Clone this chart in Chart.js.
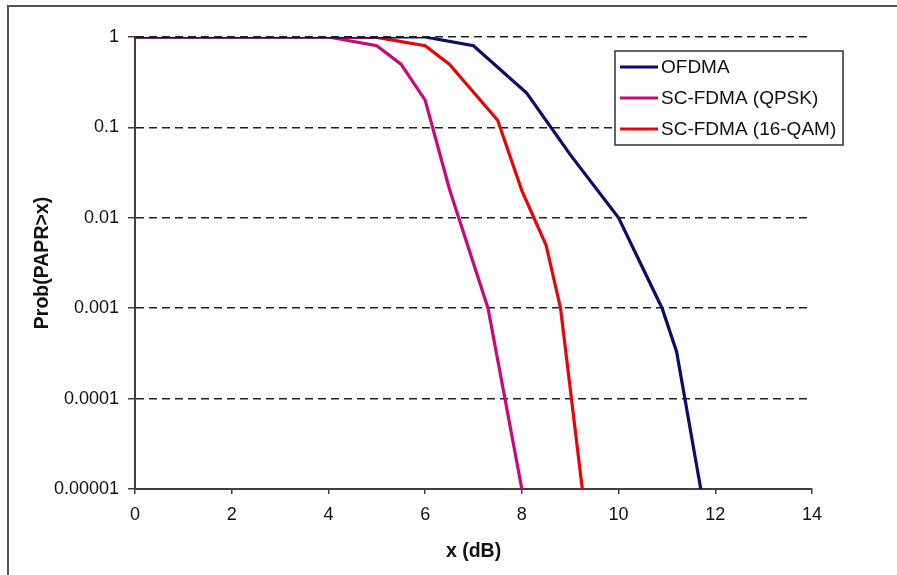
<!DOCTYPE html>
<html>
<head>
<meta charset="utf-8">
<script src="https://cdn.jsdelivr.net/npm/chart.js@4.4.0/dist/chart.umd.min.js"></script>
<style>
  html, body { margin: 0; padding: 0; background: #fff; }
</style>
</head>
<body>
<canvas id="myChart" width="897" height="575"></canvas>
<script>
let ofdmaX = [0, 2, 4, 6, 7, 8.1, 9, 10, 10.9, 11.2, 11.7];
let ofdmaY = [1, 1, 1, 1, 0.8, 0.24, 0.05, 0.01, 0.001, 0.00033, 0.00001];

let qpskX = [0, 2, 4, 5, 5.5, 6, 6.5, 7.3, 8];
let qpskY = [1, 1, 1, 0.8, 0.5, 0.2, 0.021, 0.001, 0.00001];

let qamX = [0, 2, 4, 5, 6, 6.5, 7.5, 8, 8.5, 8.8, 9.25];
let qamY = [1, 1, 1, 0.99, 0.8, 0.5, 0.12, 0.02, 0.005, 0.001, 0.00001];

let seriesNames = ['OFDMA', 'SC-FDMA (QPSK)', 'SC-FDMA (16-QAM)'];
let seriesColors = ['#0c0c6c', '#c8087c', '#e20808'];

// axis ticks
let xTicks = [0, 2, 4, 6, 8, 10, 12, 14];
let yTicks = [0.00001, 0.0001, 0.001, 0.01, 0.1, 1];
let yTickLabels = ['0.00001', '0.0001', '0.001', '0.01', '0.1', '1'];

const FONT = "'Liberation Sans', Arial, sans-serif";

// turns two arrays into {x,y} points
function pts(xs, ys) {
    return xs.map((v, i) => ({ x: v, y: ys[i] }));
}

// the thin frame round the picture (top and left only)
const framePlugin = {
    id: 'frame',
    beforeDraw(chart) {
        const c = chart.ctx;
        c.save();
        c.fillStyle = '#fff';
        c.fillRect(0, 0, chart.width, chart.height);
        c.strokeStyle = '#555';
        c.lineWidth = 2;
        c.beginPath();
        c.moveTo(8, chart.height);
        c.lineTo(8, 6);
        c.lineTo(chart.width, 6);
        c.stroke();
        c.restore();
    }
};

// boxed legend inside the plot, like the excel one
const boxLegend = {
    id: 'boxLegend',
    afterDraw(chart) {
        const c = chart.ctx;
        const x0 = 615, y0 = 51, w = 228, h = 94;
        c.save();
        c.fillStyle = '#fff';
        c.fillRect(x0, y0, w, h);
        c.strokeStyle = '#333';
        c.lineWidth = 1.5;
        c.strokeRect(x0, y0, w, h);
        c.font = '19px ' + FONT;
        c.textBaseline = 'middle';
        c.fillStyle = '#111';
        chart.data.datasets.forEach((ds, i) => {
            const y = 67 + i * 31;
            c.strokeStyle = ds.borderColor;
            c.lineWidth = 3;
            c.beginPath();
            c.moveTo(620, y);
            c.lineTo(658, y);
            c.stroke();
            c.fillText(ds.label, 661, y + 1);
        });
        c.restore();
    }
};

let ctx = document.getElementById('myChart').getContext('2d');
let chart = new Chart(ctx, {
    type: 'line',
    data: {
        datasets: [
            { label: seriesNames[0], data: pts(ofdmaX, ofdmaY), borderColor: seriesColors[0] },
            { label: seriesNames[1], data: pts(qpskX, qpskY), borderColor: seriesColors[1] },
            { label: seriesNames[2], data: pts(qamX, qamY), borderColor: seriesColors[2] }
        ]
    },
    options: {
        responsive: false,
        animation: false,
        layout: { padding: { left: 0, top: 37, right: 85, bottom: 0 } },
        elements: {
            line: { borderWidth: 3.2, tension: 0, fill: false },
            point: { radius: 0 }
        },
        plugins: {
            legend: { display: false },
            tooltip: { enabled: false }
        },
        scales: {
            x: {
                type: 'linear',
                min: 0,
                max: 14,
                afterBuildTicks: s => { s.ticks = xTicks.map(v => ({ value: v })); },
                afterFit: s => { s.height = 86; },
                ticks: { color: '#111', font: { family: FONT, size: 18 }, padding: 10 },
                grid: { drawOnChartArea: false, drawTicks: true, tickLength: 5, color: '#404040', lineWidth: 1.5 },
                border: { color: '#404040', width: 2 },
                title: {
                    display: true,
                    text: 'x (dB)',
                    color: '#111',
                    font: { family: FONT, size: 19.5, weight: 'bold' },
                    padding: { top: 0, bottom: 12 }
                }
            },
            y: {
                type: 'logarithmic',
                min: 0.00001,
                max: 1,
                afterBuildTicks: s => { s.ticks = yTicks.map(v => ({ value: v })); },
                afterFit: s => { s.width = 135; },
                ticks: {
                    color: '#111',
                    font: { family: FONT, size: 18 },
                    padding: 9,
                    callback: (v) => yTickLabels[yTicks.indexOf(v)]
                },
                grid: { color: '#222', lineWidth: 1.5, tickLength: 7, tickColor: '#404040', tickBorderDash: [] },
                border: { color: '#404040', width: 2, dash: [8, 5] },
                title: {
                    display: true,
                    text: 'Prob(PAPR>x)',
                    color: '#111',
                    font: { family: FONT, size: 19.5, weight: 'bold' },
                    padding: { top: 31, bottom: 0 }
                }
            }
        }
    },
    plugins: [framePlugin, boxLegend]
});
</script>
</body>
</html>
